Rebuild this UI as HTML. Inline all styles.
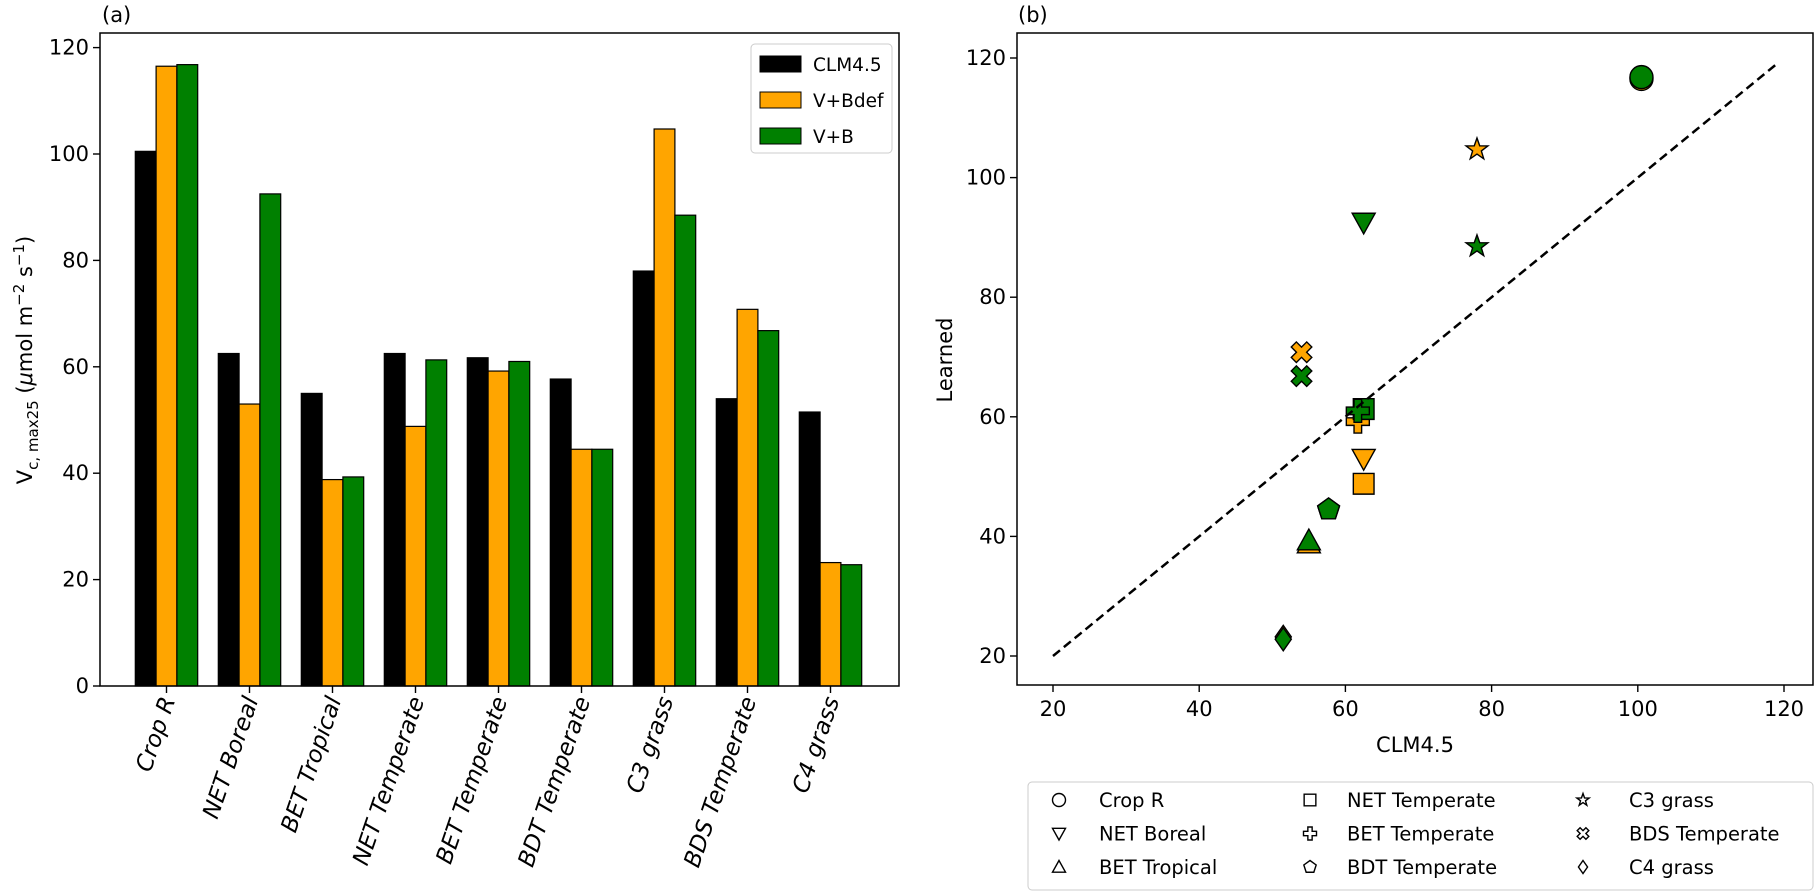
<!DOCTYPE html>
<html><head><meta charset="utf-8"><style>
html,body{margin:0;padding:0;background:#fff;}
svg{display:block;font-family:"DejaVu Sans","Liberation Sans",sans-serif;}
</style></head><body>
<svg id="fig" width="1817" height="893" viewBox="0 0 1817 893">
<g id="left"></g>
<g id="right"></g>
</svg>
<script>
const categories = ["Crop R","NET Boreal","BET Tropical","NET Temperate","BET Temperate","BDT Temperate","C3 grass","BDS Temperate","C4 grass"];
const clm45 = [100.5,62.5,55,62.5,61.7,57.7,78,54,51.5];
const vbdef = [116.5,53,38.8,48.8,59.2,44.5,104.7,70.8,23.2];
const vb = [116.8,92.5,39.3,61.3,61,44.5,88.5,66.8,22.8];
const yTicksLeft = [0,20,40,60,80,100,120];
const xTicksRight = [20,40,60,80,100,120];
const yTicksRight = [20,40,60,80,100,120];
const seriesNames = ["CLM4.5","V+Bdef","V+B"];
const seriesColors = ["#000000","#ffa500","#008000"];
const markerTypes = ["circle","tridown","triup","square","plus","pentagon","star","x","diamond"];

const NS="http://www.w3.org/2000/svg";
function mk(tag,attrs,parent){const e=document.createElementNS(NS,tag);for(const k in attrs)e.setAttribute(k,attrs[k]);parent.appendChild(e);return e;}
const L=document.getElementById('left'), R=document.getElementById('right');
const FS=21;

// Left axes
const lx0=100,lx1=899,ly0=33,ly1=686;
const yL=v=>686-v*5.32;
const xL=i=>166.5+i*83;
const bw=20.8;
[clm45,vbdef,vb].forEach((arr,s)=>{
  arr.forEach((v,i)=>{
    const r=mk('rect',{x:xL(i)+(s-1)*bw-bw/2,y:yL(v),width:bw,height:yL(0)-yL(v),fill:seriesColors[s],stroke:'#000','stroke-width':1.2},L);
    
    
  });
});
let f=mk('rect',{x:lx0,y:ly0,width:lx1-lx0,height:ly1-ly0,fill:'none',stroke:'#000','stroke-width':1.5},L);

yTicksLeft.forEach(t=>{
  mk('line',{x1:lx0-7,x2:lx0,y1:yL(t),y2:yL(t),stroke:'#000','stroke-width':1.4},L);
  const tx=mk('text',{x:lx0-11,y:yL(t)+7,'text-anchor':'end','font-size':FS},L);tx.textContent=t;
  
});
categories.forEach((c,i)=>{
  mk('line',{x1:xL(i),x2:xL(i),y1:ly1,y2:ly1+7,stroke:'#000','stroke-width':1.4},L);
  const tx=mk('text',{transform:`translate(${xL(i)+9},${ly1+14}) rotate(-71)`,'text-anchor':'end','font-size':23,'font-style':'italic'},L);
  tx.textContent=c;
  
});
let t=mk('text',{x:102,y:22,'font-size':FS},L);t.textContent='(a)';
t=mk('text',{transform:'translate(32,360) rotate(-90)','text-anchor':'middle','font-size':FS},L);
t.innerHTML='V<tspan font-size="15" dy="6">c, max25</tspan><tspan dy="-6"> (</tspan><tspan font-style="italic">μ</tspan>mol m<tspan font-size="15" dy="-8">−2</tspan><tspan dy="8"> s</tspan><tspan font-size="15" dy="-8">−1</tspan><tspan dy="8">)</tspan>';

// left legend
let lg=mk('g',{},L);
mk('rect',{x:751,y:44,width:141,height:109,rx:4,fill:'#fff',stroke:'#ccc','stroke-width':1},lg);
seriesNames.forEach((n,s)=>{
  const y=64+s*36;
  mk('rect',{x:760,y:y-8,width:41,height:16,fill:seriesColors[s],stroke:'#000','stroke-width':1},lg);
  const tx=mk('text',{x:813,y:y+7,'font-size':18.5},lg);tx.textContent=n;
  
});

// Right axes
const rx0=1017,rx1=1813,ry0=33,ry1=685;
const xR=v=>1053+(v-20)*7.31;
const yR=v=>656-(v-20)*5.98;
f=mk('rect',{x:rx0,y:ry0,width:rx1-rx0,height:ry1-ry0,fill:'none',stroke:'#000','stroke-width':1.5},R);

xTicksRight.forEach(v=>{
  mk('line',{x1:xR(v),x2:xR(v),y1:ry1,y2:ry1+7,stroke:'#000','stroke-width':1.4},R);
  const tx=mk('text',{x:xR(v),y:ry1+31,'text-anchor':'middle','font-size':FS},R);tx.textContent=v;
  
});
yTicksRight.forEach(v=>{
  mk('line',{x1:rx0-7,x2:rx0,y1:yR(v),y2:yR(v),stroke:'#000','stroke-width':1.4},R);
  const tx=mk('text',{x:rx0-11,y:yR(v)+7,'text-anchor':'end','font-size':FS},R);tx.textContent=v;
  
});
t=mk('text',{x:1018,y:22,'font-size':FS},R);t.textContent='(b)';
t=mk('text',{x:1415,y:752,'text-anchor':'middle','font-size':FS},R);t.textContent='CLM4.5';
t=mk('text',{transform:'translate(952,360) rotate(-90)','text-anchor':'middle','font-size':FS},R);t.textContent='Learned';

function marker(type,cx,cy,s,fill,parent,sw){
  const h=s/2;let e;
  const st={fill:fill,stroke:'#000','stroke-width':sw||1.4,'stroke-linejoin':'miter'};
  const poly=pts=>mk('polygon',Object.assign({points:pts.map(p=>(cx+p[0]*h)+','+(cy+p[1]*h)).join(' ')},st),parent);
  if(type==='circle')e=mk('circle',Object.assign({cx:cx,cy:cy,r:h},st),parent);
  else if(type==='square')e=poly([[-0.9,-0.9],[0.9,-0.9],[0.9,0.9],[-0.9,0.9]]);
  else if(type==='triup')e=poly([[0,-1],[1,0.8],[-1,0.8]]);
  else if(type==='tridown')e=poly([[0,1],[1,-0.8],[-1,-0.8]]);
  else if(type==='diamond')e=poly([[0,-1],[0.7,0],[0,1],[-0.7,0]]);
  else if(type==='pentagon'){const p=[];for(let k=0;k<5;k++){const a=-Math.PI/2+k*2*Math.PI/5;p.push([Math.cos(a),Math.sin(a)]);}e=poly(p);}
  else if(type==='star'){const p=[];for(let k=0;k<10;k++){const a=-Math.PI/2+k*Math.PI/5;const r=k%2?0.4:1;p.push([r*Math.cos(a),r*Math.sin(a)]);}e=poly(p);}
  else if(type==='plus'){const a=0.33,b=1;e=poly([[-a,-b],[a,-b],[a,-a],[b,-a],[b,a],[a,a],[a,b],[-a,b],[-a,a],[-b,a],[-b,-a],[-a,-a]]);}
  else if(type==='x'){const p=[];const a=0.33,b=1;const base=[[-a,-b],[a,-b],[a,-a],[b,-a],[b,a],[a,a],[a,b],[-a,b],[-a,a],[-b,a],[-b,-a],[-a,-a]];const c=Math.SQRT1_2;base.forEach(q=>p.push([(q[0]-q[1])*c*0.95,(q[0]+q[1])*c*0.95]));e=poly(p);}
  return e;
}
[vbdef,vb].forEach((arr,s)=>{
  arr.forEach((v,i)=>{
    const m=marker(markerTypes[i],xR(clm45[i]),yR(v),23,seriesColors[s+1],R);
    
    
  });
});
const dl=mk('line',{x1:xR(20),y1:yR(20),x2:xR(119),y2:yR(119),stroke:'#000','stroke-width':2.5,'stroke-dasharray':'9,5'},R);

// right legend
const rg=mk('g',{},R);
mk('rect',{x:1028,y:782,width:785,height:108,rx:4,fill:'#fff',stroke:'#ccc','stroke-width':1},rg);
const colX=[1059,1310,1583];
const colT=[1099,1347,1629];
categories.forEach((c,i)=>{
  const col=Math.floor(i/3),row=i%3;
  const y=800+row*33.5;
  marker(markerTypes[i],colX[col],y,13,'#fff',rg,1.4);
  const tx=mk('text',{x:colT[col],y:y+7,'font-size':19.5},rg);tx.textContent=c;
  
});
</script>
</body></html>
